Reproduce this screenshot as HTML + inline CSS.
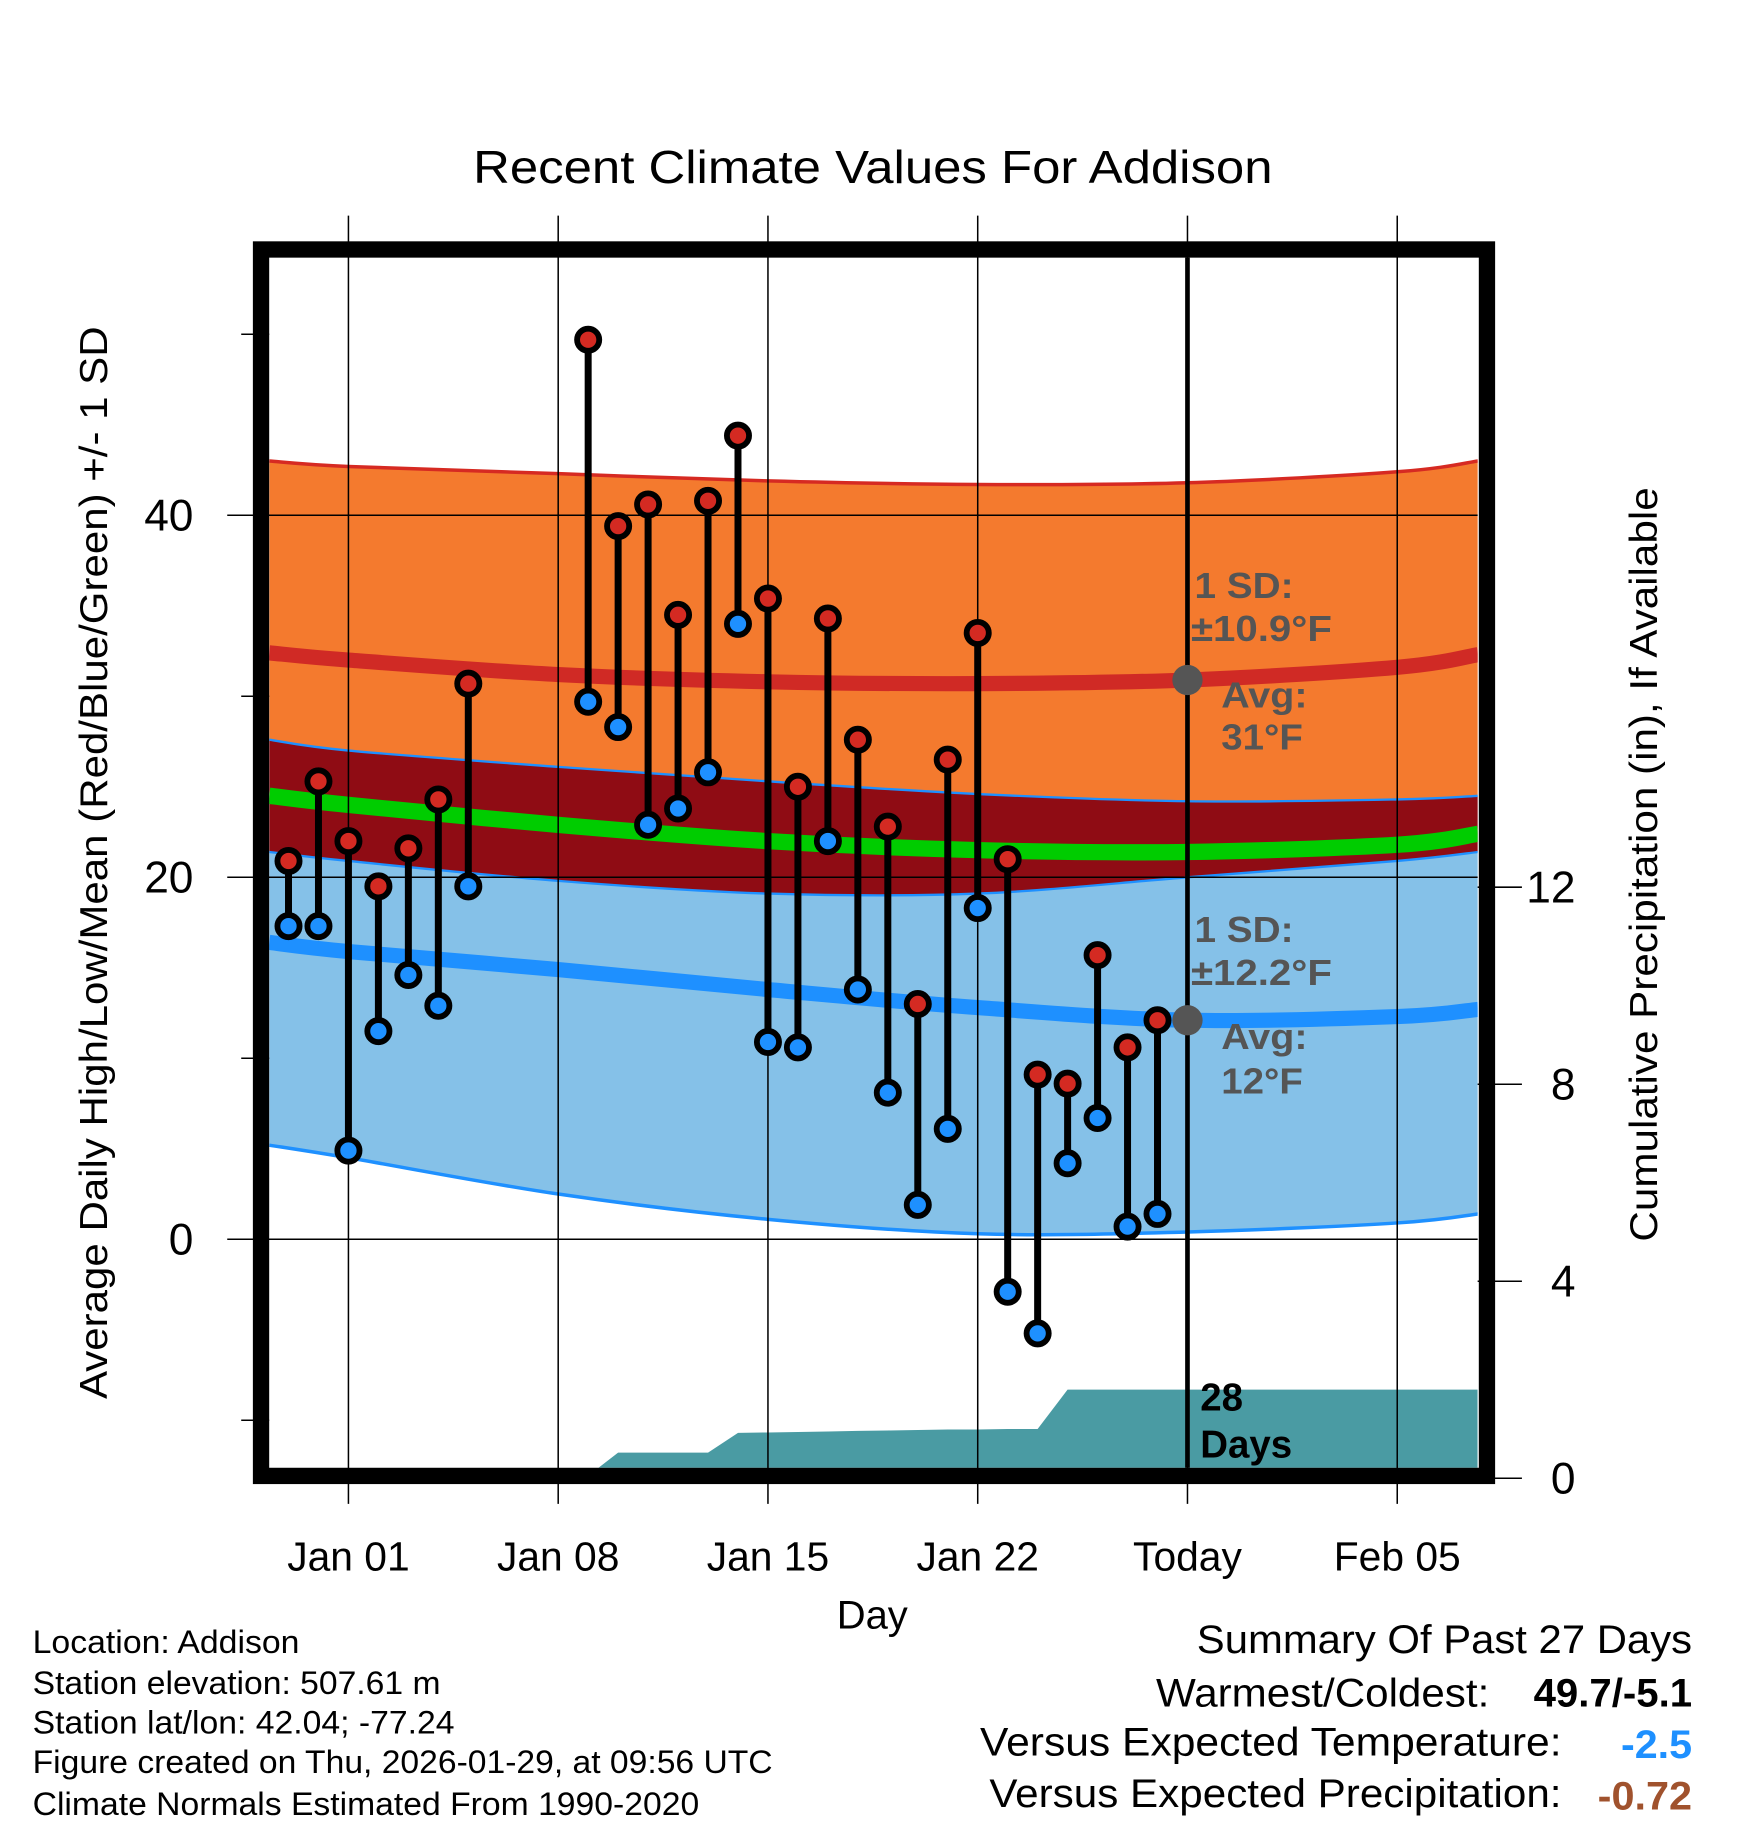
<!DOCTYPE html>
<html><head><meta charset="utf-8"><style>
html,body{margin:0;padding:0;background:#fff;}
svg{display:block;font-family:"Liberation Sans",sans-serif;}
</style></head><body>
<svg id="chart" width="1748" height="1828" viewBox="0 0 1500 1568" preserveAspectRatio="none" xmlns="http://www.w3.org/2000/svg">
<text x="406" y="157" font-size="40" textLength="686" lengthAdjust="spacingAndGlyphs">Recent Climate Values For Addison</text>
<g id="plot"></g>
<text x="718" y="1397" font-size="34" textLength="61" lengthAdjust="spacingAndGlyphs">Day</text>
<text transform="translate(92,1200) rotate(-90)" font-size="33" textLength="920" lengthAdjust="spacingAndGlyphs">Average Daily High/Low/Mean (Red/Blue/Green) +/- 1 SD</text>
<text transform="translate(1422,1065) rotate(-90)" font-size="33" textLength="647" lengthAdjust="spacingAndGlyphs">Cumulative Precipitation (in), If Available</text>
<g font-size="28" lengthAdjust="spacingAndGlyphs">
<text x="28" y="1418" textLength="229" lengthAdjust="spacingAndGlyphs">Location: Addison</text>
<text x="28" y="1453" textLength="350" lengthAdjust="spacingAndGlyphs">Station elevation: 507.61 m</text>
<text x="28" y="1487" textLength="362" lengthAdjust="spacingAndGlyphs">Station lat/lon: 42.04; -77.24</text>
<text x="28" y="1521" textLength="635" lengthAdjust="spacingAndGlyphs">Figure created on Thu, 2026-01-29, at 09:56 UTC</text>
<text x="28" y="1557" textLength="572" lengthAdjust="spacingAndGlyphs">Climate Normals Estimated From 1990-2020</text>
</g>
<g>
<text x="1027" y="1418" font-size="34" textLength="425" lengthAdjust="spacingAndGlyphs">Summary Of Past 27 Days</text>
<text x="992" y="1464" font-size="34" textLength="286" lengthAdjust="spacingAndGlyphs">Warmest/Coldest:</text>
<text x="1316" y="1464" font-size="34" font-weight="bold" textLength="136" lengthAdjust="spacingAndGlyphs">49.7/-5.1</text>
<text x="841" y="1506" font-size="34" textLength="499" lengthAdjust="spacingAndGlyphs">Versus Expected Temperature:</text>
<text x="1391" y="1508" font-size="34" font-weight="bold" fill="#1e90ff" textLength="61" lengthAdjust="spacingAndGlyphs">-2.5</text>
<text x="849" y="1550" font-size="34" textLength="491" lengthAdjust="spacingAndGlyphs">Versus Expected Precipitation:</text>
<text x="1371" y="1552" font-size="34" font-weight="bold" fill="#a0522d" textLength="81" lengthAdjust="spacingAndGlyphs">-0.72</text>
</g>
</svg>
<script>
// ---- data ----
const days = [-2,-1,0,1,2,3,4,8,9,10,11,12,13,14,15,16,17,18,19,20,21,22,23,24,25,26,27];
const highs = [20.9,25.3,22.0,19.5,21.6,24.3,30.7,49.7,39.4,40.6,34.5,40.8,44.4,35.4,25.0,34.3,27.6,22.8,13.0,26.5,33.5,21.0,9.1,8.6,15.7,10.6,12.1];
const lows = [17.3,17.3,4.9,11.5,14.6,12.9,19.5,29.7,28.3,22.9,23.8,25.8,34.0,10.9,10.6,22.0,13.8,8.1,1.9,6.1,18.3,-2.9,-5.2,4.2,6.7,0.7,1.4];
const normDays = [-2.64,0,7,14,21,28,35,37.7];
const normHighAvg = [32.4,32.0,31.2,30.8,30.7,30.9,31.6,32.3];
const normHighUpper = [43.0,42.7,42.3,41.9,41.7,41.8,42.4,43.0];
const normHighLower = [27.6,27.0,26.1,25.3,24.6,24.2,24.3,24.5];
const normLowAvg = [16.4,15.9,14.9,13.8,12.8,12.1,12.3,12.7];
const normLowUpper = [21.4,20.9,19.8,19.1,19.1,20.0,20.9,21.4];
const normLowLower = [5.2,4.5,2.5,1.1,0.3,0.4,0.9,1.4];
const normMean = [24.5,24.0,22.9,22.0,21.5,21.4,21.8,22.4];
const precipDays = [-2,-1,0,1,2,3,4,5,6,7,8,9,10,11,12,13,14,15,16,17,18,19,20,21,22,23,24,25,26,27,28];
const precipCum = [0,0,0,0,0,0,0,0.03,0.03,0.04,0.05,0.52,0.52,0.52,0.52,0.92,0.93,0.94,0.95,0.96,0.97,0.98,0.99,0.99,1.0,1.0,1.8,1.8,1.8,1.8,1.8];
const xTickDays = [0,7,14,21,28,35];
const xTickLabels = ["Jan 01","Jan 08","Jan 15","Jan 22","Today","Feb 05"];
const yTicks = [0,20,40];
const yMinor = [-10,10,30,50];
const y2Ticks = [0,4,8,12];

// ---- axes ----
const X0=231,X1=1268,Y0=221,Y1=1259;
const xs = d => 299 + d*180/7;
const ys = t => 1063 - t*15.525;
const ps = p => 1268 - p*42.25;
const NS='http://www.w3.org/2000/svg';
const plot=document.getElementById('plot');
function mk(tag,attrs,parent){const e=document.createElementNS(NS,tag);for(const k in attrs)e.setAttribute(k,attrs[k]);(parent||plot).appendChild(e);return e;}
const defs=mk('defs',{});
const cp=mk('clipPath',{id:'clip'},defs);
mk('rect',{x:X0,y:Y0,width:X1-X0,height:Y1-Y0},cp);
const g=mk('g',{'clip-path':'url(#clip)'});
// smooth (Catmull-Rom) path through data points; returns path segment string
function smooth(arr, reverse){
  let P=normDays.map((d,i)=>[xs(d),ys(arr[i])]);
  if(reverse)P=P.reverse();
  let s='';
  for(let i=0;i<P.length-1;i++){
    const p0=P[Math.max(i-1,0)],p1=P[i],p2=P[i+1],p3=P[Math.min(i+2,P.length-1)];
    const c1=[p1[0]+(p2[0]-p0[0])/6,p1[1]+(p2[1]-p0[1])/6];
    const c2=[p2[0]-(p3[0]-p1[0])/6,p2[1]-(p3[1]-p1[1])/6];
    if(i===0)s+=p1[0].toFixed(1)+','+p1[1].toFixed(1);
    s+=' C'+c1[0].toFixed(1)+','+c1[1].toFixed(1)+' '+c2[0].toFixed(1)+','+c2[1].toFixed(1)+' '+p2[0].toFixed(1)+','+p2[1].toFixed(1);
  }
  return s;
}
function band(up,lo,fill,name){
  const d='M'+smooth(up,false)+' L'+smooth(lo,true)+' Z';
  const e=mk('path',{d:d,fill:fill},g);
  
  
}
function line(a,stroke,w,name){
  const e=mk('path',{d:'M'+smooth(a,false),fill:'none',stroke:stroke,'stroke-width':w},g);
  
  
}
band(normLowUpper,normLowLower,'#85c1e8','low-sd-band');
band(normHighUpper,normHighLower,'#f47a2e','high-sd-band');
band(normHighLower,normLowUpper,'#8f0c14','overlap-band');
line(normLowLower,'#1e90ff',3,'low-sd-lower-edge');
line(normLowUpper,'#1e90ff',2,'low-sd-upper-edge');
line(normHighLower,'#1e90ff',2,'high-sd-lower-edge');
line(normHighUpper,'#d62a22',3,'high-sd-upper-edge');
line(normHighAvg,'#d02a25',13,'normal-high-line');
line(normLowAvg,'#1e90ff',13,'normal-low-line');
line(normMean,'#00cc00',14,'normal-mean-line');
// precip
{
  let p=[xs(precipDays[0])+','+ps(0)];
  precipDays.forEach((d,i)=>p.push(xs(d).toFixed(1)+','+ps(precipCum[i]).toFixed(1)));
  p.push(X1+','+ps(precipCum[precipCum.length-1]).toFixed(1));
  p.push(X1+','+ps(0));
  const e=mk('polygon',{points:p.join(' '),fill:'#4a9ba3'},g);
  
  
}
// grid
xTickDays.forEach(d=>{mk('line',{x1:xs(d),x2:xs(d),y1:185,y2:1290,stroke:'#000','stroke-width':1.3});});
yTicks.forEach(t=>{mk('line',{x1:195,x2:X1,y1:ys(t),y2:ys(t),stroke:'#000','stroke-width':1.3});});
yMinor.forEach(t=>{mk('line',{x1:207,x2:X0,y1:ys(t),y2:ys(t),stroke:'#000','stroke-width':1.3});});
y2Ticks.forEach(p=>{mk('line',{x1:1268,x2:1306,y1:ps(p),y2:ps(p),stroke:'#000','stroke-width':1.3});});
// today line
mk('line',{x1:xs(28),x2:xs(28),y1:Y0,y2:Y1,stroke:'#000','stroke-width':4});
// stems + markers
days.forEach((d,i)=>{
  const s=mk('line',{x1:xs(d),x2:xs(d),y1:ys(highs[i]),y2:ys(lows[i]),stroke:'#000','stroke-width':6});
  
  
});
days.forEach((d,i)=>{
  const h=mk('circle',{cx:xs(d),cy:ys(highs[i]),r:9.5,fill:'#d42a22',stroke:'#000','stroke-width':5});
  
  
  const l=mk('circle',{cx:xs(d),cy:ys(lows[i]),r:9.5,fill:'#1e90ff',stroke:'#000','stroke-width':5});
  
  
});
// annotations
mk('circle',{cx:xs(28),cy:ys(30.9),r:13,fill:'#555'});
mk('circle',{cx:xs(28),cy:ys(12.1),r:13,fill:'#555'});
const ann=[["1 SD:",1025,513,85],["\u00b110.9\u00b0F",1022,550,121],["Avg:",1048,607,74],["31\u00b0F",1048,643,70],["1 SD:",1025,808,85],["\u00b112.2\u00b0F",1022,845,121],["Avg:",1048,900,74],["12\u00b0F",1048,938,70]];
ann.forEach(a=>{const t=mk('text',{x:a[1],y:a[2],'font-size':31,'font-weight':'bold',fill:'#555',textLength:a[3],lengthAdjust:'spacingAndGlyphs'});t.textContent=a[0];

});
[["28",1210],["Days",1250]].forEach(a=>{const t=mk('text',{x:1030,y:a[1],'font-size':33,'font-weight':'bold'});t.textContent=a[0];

});
// frame
const fr=mk('rect',{x:224,y:214,width:1052,height:1052,fill:'none',stroke:'#000','stroke-width':14});


// tick labels
xTickDays.forEach((d,i)=>{const t=mk('text',{x:xs(d),y:1347,'font-size':35,'text-anchor':'middle'});t.textContent=xTickLabels[i];

});
yTicks.forEach(v=>{const t=mk('text',{x:166,y:ys(v)+13,'font-size':38,'text-anchor':'end'});t.textContent=v;

});
y2Ticks.forEach(v=>{const t=mk('text',{x:1352,y:ps(v)+13,'font-size':38,'text-anchor':'end'});t.textContent=v;

});
</script>
</body></html>
